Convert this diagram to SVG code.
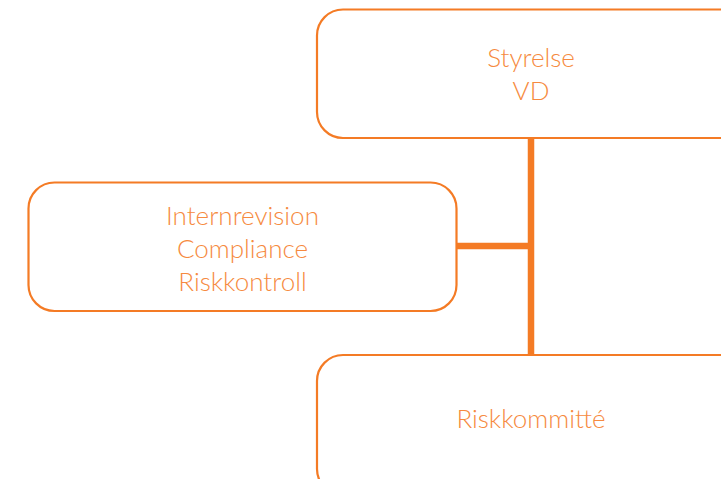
<svg xmlns="http://www.w3.org/2000/svg" width="721" height="479" viewBox="0 0 721 479">
<style>
.box{fill:#ffffff;stroke:#F47B25;stroke-width:2.2}
.lbl{font-family:Lato,"Liberation Sans",sans-serif;font-weight:300;font-size:26px;fill:#F68A40;text-anchor:middle}
.conn{stroke:#F47B25;stroke-width:6.5;fill:none}
</style>
<rect width="721" height="479" fill="#ffffff"/>
<g id="connectors">
<line class="conn" x1="531" y1="138" x2="531" y2="355"/>
<line class="conn" x1="456" y1="246" x2="531" y2="246"/>
</g>
<g id="node-styrelse">
<rect class="box" x="317" y="9.5" width="430" height="128.5" rx="26"/>
<text class="lbl" x="531" y="67">Styrelse</text>
<text class="lbl" x="531" y="100">VD</text>
</g>
<g id="node-kontroll">
<rect class="box" x="28.5" y="182.5" width="428" height="128.5" rx="26"/>
<text class="lbl" x="242.5" y="225">Internrevision</text>
<text class="lbl" x="242.5" y="258">Compliance</text>
<text class="lbl" x="242.5" y="291">Riskkontroll</text>
</g>
<g id="node-riskkommitte">
<rect class="box" x="317" y="355" width="430" height="140" rx="26"/>
<text class="lbl" x="531" y="428">Riskkommitté</text>
</g>
</svg>
